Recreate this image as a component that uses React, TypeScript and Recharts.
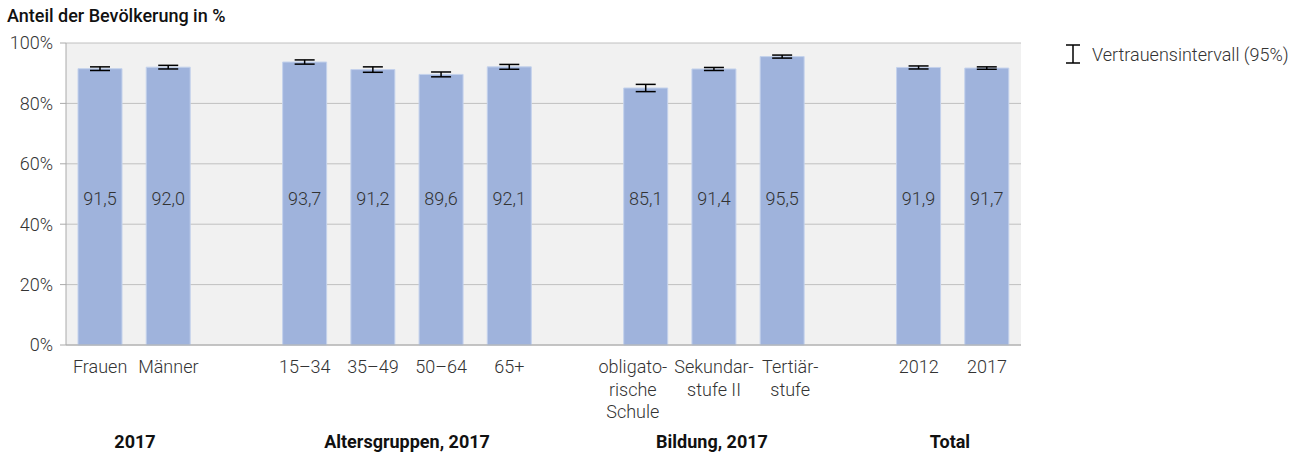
import React from "react";
import {
  Bar,
  BarChart,
  CartesianGrid,
  ErrorBar,
  LabelList,
  XAxis,
  YAxis,
} from "recharts";

// Empty names are the spacer slots between the groups.
const CATEGORIES = [
  "Frauen",
  "Männer",
  "",
  "15–34",
  "35–49",
  "50–64",
  "65+",
  " ",
  "obligato-\nrische\nSchule",
  "Sekundar-\nstufe II",
  "Tertiär-\nstufe",
  "  ",
  "2012",
  "2017",
];
const VALUES = [91.5, 92.0, null, 93.7, 91.2, 89.6, 92.1, null, 85.1, 91.4, 95.5, null, 91.9, 91.7];
const ERRORS = [0.6, 0.6, null, 0.7, 0.9, 0.8, 0.8, null, 1.2, 0.5, 0.5, null, 0.5, 0.4];
const Y_TICKS = [0, 20, 40, 60, 80, 100];
const GROUPS = [
  { label: "2017", x: 135 },
  { label: "Altersgruppen, 2017", x: 407 },
  { label: "Bildung, 2017", x: 712 },
  { label: "Total", x: 950 },
];

const FONT = "Roboto, 'Noto Sans', sans-serif";
const BAR_COLOR = "#9fb3dc";
const TEXT = "#333";
const FS = 18;

// long education labels are nudged apart so they don't collide
const TICK_SHIFT: Record<number, number> = { 8: -13, 10: 8 };

const data = CATEGORIES.map((name, i) => ({
  name,
  value: VALUES[i],
  err: ERRORS[i],
}));

function CategoryTick({ x, y, payload, index }: any) {
  const lines = String(payload.value).trim().split("\n");
  const cx = x + (TICK_SHIFT[index] ?? 0);
  return (
    <text x={cx} y={y} textAnchor="middle" fill={TEXT} fontSize={FS} fontWeight={300} fontFamily={FONT}>
      {lines.map((l, i) => (
        <tspan key={i} x={cx} dy={i === 0 ? 20 : 22.5}>
          {l}
        </tspan>
      ))}
    </text>
  );
}

function ValueLabel({ x, y, width, height, value }: any) {
  if (value == null) return null;
  const base = Number(y) + Number(height);
  return (
    <text
      x={Number(x) + Number(width) / 2}
      y={base - 145}
      textAnchor="middle"
      dominantBaseline="middle"
      fill={TEXT}
      fontSize={FS}
      fontWeight={300}
      fontFamily={FONT}
    >
      {Number(value).toFixed(1).replace(".", ",")}
    </text>
  );
}

export default function App() {
  return (
    <div style={{ position: "absolute", left: 0, top: 0, width: 1303, height: 454, fontFamily: FONT }}>
      <div style={{ position: "absolute", left: 7, top: 5, fontSize: FS, fontWeight: 500, color: "#111" }}>
        Anteil der Bevölkerung in %
      </div>
      <BarChart
        width={1303}
        height={454}
        data={data}
        margin={{ top: 43, right: 282, bottom: 0, left: 6 }}
        barSize={44}
      >
        <CartesianGrid vertical={false} stroke="#c0c0c0" fill="#f1f1f1" />
        <XAxis
          dataKey="name"
          interval={0}
          height={109}
          tickLine={false}
          axisLine={{ stroke: "#aaa" }}
          tick={<CategoryTick />}
        />
        <YAxis
          domain={[0, 100]}
          ticks={Y_TICKS}
          width={60}
          tickSize={6}
          tickMargin={7}
          tickLine={{ stroke: "#aaa" }}
          axisLine={{ stroke: "#aaa" }}
          tickFormatter={(v) => `${v}%`}
          tick={{ fill: TEXT, fontSize: FS, fontWeight: 300, fontFamily: FONT }}
        />
        <YAxis
          yAxisId="r"
          orientation="right"
          domain={[0, 100]}
          width={0}
          tick={false}
          tickLine={false}
          axisLine={{ stroke: "#c0c0c0" }}
        />
        <Bar dataKey="value" fill={BAR_COLOR} stroke="#c4d2ec" strokeWidth={1} isAnimationActive={false}>
          <ErrorBar dataKey="err" width={10} stroke="#000" strokeWidth={1.5} />
          <LabelList dataKey="value" content={<ValueLabel />} />
        </Bar>
      </BarChart>
      {GROUPS.map((g) => (
        <div
          key={g.label}
          style={{
            position: "absolute",
            left: g.x - 150,
            width: 300,
            top: 431,
            textAlign: "center",
            fontSize: FS,
            fontWeight: 700,
            color: "#111",
          }}
        >
          {g.label}
        </div>
      ))}
      <svg style={{ position: "absolute", left: 1060, top: 40 }} width={30} height={30}>
        <g stroke="#000" strokeWidth={1.5}>
          <line x1={13} x2={13} y1={5} y2={23} />
          <line x1={6} x2={20} y1={5} y2={5} />
          <line x1={6} x2={20} y1={23} y2={23} />
        </g>
      </svg>
      <div style={{ position: "absolute", left: 1092, top: 44, fontSize: FS, fontWeight: 300, color: TEXT }}>
        Vertrauensintervall (95%)
      </div>
    </div>
  );
}
